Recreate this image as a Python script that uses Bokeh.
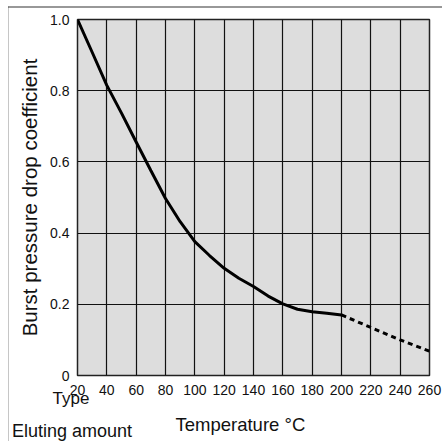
from bokeh.plotting import figure
from bokeh.models import Range1d, FixedTicker, Label
from bokeh.embed import file_html
from bokeh.resources import INLINE

# Data
temps_solid = [20, 30, 40, 50, 60, 70, 80, 90, 100, 110, 120, 130, 140, 150, 160, 170, 180, 190, 200]
coef_solid = [1.0, 0.908, 0.815, 0.737, 0.656, 0.576, 0.497, 0.432, 0.376, 0.337, 0.301, 0.273, 0.25, 0.223, 0.201, 0.186, 0.179, 0.175, 0.17]
temps_dashed = [200, 220, 240, 260]
coef_dashed = [0.17, 0.135, 0.1, 0.068]

x_ticks = [20, 40, 60, 80, 100, 120, 140, 160, 180, 200, 220, 240, 260]
y_ticks = [0, 0.2, 0.4, 0.6, 0.8, 1.0]
y_tick_labels = ["0", "0.2", "0.4", "0.6", "0.8", "1.0"]

FONT = "Liberation Sans"
W, H = 442, 441

p = figure(width=W, height=H, output_backend="svg", toolbar_location=None,
           x_range=Range1d(20, 260), y_range=Range1d(0, 1.0),
           min_border_left=77, min_border_right=13, min_border_top=19, min_border_bottom=66)

p.background_fill_color = "#dddddd"
p.border_fill_color = "white"
p.outline_line_color = "#222222"
p.outline_line_width = 1.5

p.xaxis.ticker = FixedTicker(ticks=x_ticks)
p.yaxis.ticker = FixedTicker(ticks=y_ticks)
p.yaxis.major_label_overrides = {t: l for t, l in zip(y_ticks, y_tick_labels)}

for ax in (p.xaxis, p.yaxis):
    ax.axis_line_color = None
    ax.major_tick_line_color = None
    ax.minor_tick_line_color = None
    ax.major_label_text_font = FONT
    ax.major_label_text_font_size = "14px"
    ax.major_label_text_color = "#111111"

p.xaxis.major_label_standoff = 3
p.yaxis.major_label_standoff = 2

p.yaxis.axis_label = "Burst pressure drop coefficient"
p.yaxis.axis_label_text_font = FONT
p.yaxis.axis_label_text_font_size = "20.5px"
p.yaxis.axis_label_text_font_style = "normal"
p.yaxis.axis_label_text_color = "#111111"
p.yaxis.axis_label_standoff = 6

p.grid.grid_line_color = "#111111"
p.grid.grid_line_width = 1.2

p.line(temps_solid, coef_solid, line_color="black", line_width=3)
p.line(temps_dashed, coef_dashed, line_color="black", line_width=3, line_dash="5 4")

def lab(text, xc, yc, size, place):
    p.add_layout(Label(x=xc, y=yc, x_units="canvas", y_units="canvas", text=text,
                       text_font=FONT, text_font_size=size, text_color="#111111",
                       text_baseline="alphabetic", text_align="left"), place)

lab("Type", 52, 398, "17px", "above")
lab("Eluting amount", 11.5, 430, "18px", "below")
lab("Temperature \u00b0C", 175, 423.5, "18.5px", "below")

# outer frame lines (left and top) of the surrounding box
p.add_layout(Label(x=7.5, y=6, x_units="canvas", y_units="canvas", text=" ",
                   text_font_size="1px", text_align="left", text_baseline="top",
                   background_fill_color="#333333",
                   padding=dict(left=0, right=0, top=0, bottom=600)), "left")
p.add_layout(Label(x=7.5, y=6, x_units="canvas", y_units="canvas", text=" ",
                   text_font_size="1px", text_align="left", text_baseline="top",
                   background_fill_color="#333333",
                   padding=dict(left=0, right=600, top=0, bottom=0)), "below")

open("out.html", "w").write(file_html(p, INLINE))
